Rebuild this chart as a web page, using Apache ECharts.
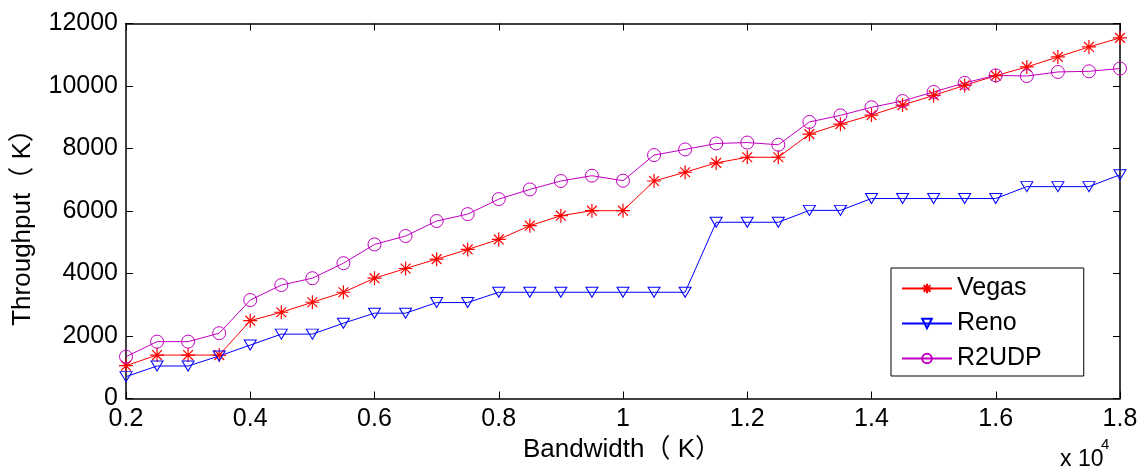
<!DOCTYPE html>
<html>
<head>
<meta charset="utf-8">
<script src="https://cdn.jsdelivr.net/npm/echarts@6/dist/echarts.min.js"></script>
<style>html,body{margin:0;padding:0;background:#fff;}#c{width:1141px;height:470px;}</style>
</head>
<body>
<div id="c"></div>
<script>
const bandwidth = [0.2,0.25,0.3,0.35,0.4,0.45,0.5,0.55,0.6,0.65,0.7,0.75,0.8,0.85,0.9,0.95,1.0,1.05,1.1,1.15,1.2,1.25,1.3,1.35,1.4,1.45,1.5,1.55,1.6,1.65,1.7,1.75,1.8];
const vegas = [1050,1390,1390,1390,2490,2760,3080,3400,3850,4160,4460,4770,5090,5530,5850,6010,6010,6960,7240,7540,7720,7720,8460,8780,9070,9390,9700,10020,10330,10610,10930,11250,11540];
const reno = [700,1040,1040,1360,1710,2060,2060,2410,2730,2730,3070,3070,3400,3400,3400,3400,3400,3400,3400,5640,5640,5640,6020,6020,6400,6400,6400,6400,6400,6780,6780,6780,7160];
const r2udp = [1340,1820,1820,2090,3150,3630,3850,4330,4930,5200,5680,5900,6380,6690,6960,7130,6970,7790,7970,8160,8190,8120,8850,9060,9320,9520,9810,10100,10340,10320,10450,10470,10560];
const seriesNames = ['Vegas','Reno','R2UDP'];
const xTitle = 'Bandwidth（ K）';
const yTitle = 'Throughput（ K）';

const FONT = '"Liberation Sans", Arial, "Noto Sans CJK SC", sans-serif';
const pair = (ys) => bandwidth.map((x, i) => [x, ys[i]]);
const asterisk = 'path://M10,0L10,20M0,10L20,10M3,3L17,17M3,17L17,3';

const chart = echarts.init(document.getElementById('c'), null, {renderer: 'canvas'});
const axisLine = {show: true, onZero: false, lineStyle: {color: '#000', width: 1.5}};
const tick = {show: true, inside: true, length: 7, lineStyle: {color: '#000', width: 1}};
chart.setOption({
  animation: false,
  backgroundColor: '#fff',
  textStyle: {fontFamily: FONT},
  grid: {left: 126, right: 21, top: 23.5, bottom: 71.5, containLabel: false},
  xAxis: [{
    type: 'value', min: 0.2, max: 1.8, interval: 0.2, position: 'bottom',
    axisLine, axisTick: tick, splitLine: {show: false},
    axisLabel: {color: '#000', fontSize: 25, fontFamily: FONT, margin: 8,
      formatter: v => String(Math.round(v * 10) / 10)},
    name: xTitle, nameLocation: 'middle', nameGap: 33,
    nameTextStyle: {color: '#000', fontSize: 26, fontFamily: FONT, padding: [0, 2, 0, 0]}
  }, {
    type: 'value', min: 0.2, max: 1.8, interval: 0.2, position: 'top',
    axisLine, axisTick: tick, axisLabel: {show: false}, splitLine: {show: false}
  }],
  yAxis: [{
    type: 'value', min: 0, max: 12000, interval: 2000, position: 'left',
    axisLine, axisTick: tick, splitLine: {show: false},
    axisLabel: {color: '#000', fontSize: 25, fontFamily: FONT, margin: 8, formatter: v => String(v)},
    name: yTitle, nameLocation: 'middle', nameGap: 90,
    nameTextStyle: {color: '#000', fontSize: 26, fontFamily: FONT, padding: [0, 20, 0, 0]}
  }, {
    type: 'value', min: 0, max: 12000, interval: 2000, position: 'right',
    axisLine, axisTick: tick, axisLabel: {show: false}, splitLine: {show: false}
  }],
  legend: {
    orient: 'vertical', left: 891, top: 268,
    data: seriesNames,
    backgroundColor: '#fff', borderColor: '#000', borderWidth: 1,
    padding: [8, 42, 5, 10], itemWidth: 50, itemHeight: 12, itemGap: 10,
    textStyle: {color: '#000', fontSize: 25, fontFamily: FONT, lineHeight: 25}
  },
  series: [{
    name: seriesNames[0], type: 'line', data: pair(vegas), xAxisIndex: 0, yAxisIndex: 0,
    symbol: asterisk, symbolSize: 14, showAllSymbol: true,
    lineStyle: {color: '#ff0000', width: 1},
    itemStyle: {color: 'rgba(0,0,0,0)', borderColor: '#ff0000', borderWidth: 1.2},
    z: 3
  }, {
    name: seriesNames[1], type: 'line', data: pair(reno),
    symbol: 'triangle', symbolRotate: 180, symbolSize: [12, 10], showAllSymbol: true,
    lineStyle: {color: '#0000ff', width: 1},
    itemStyle: {color: 'rgba(0,0,0,0)', borderColor: '#0000ff', borderWidth: 1},
    z: 3
  }, {
    name: seriesNames[2], type: 'line', data: pair(r2udp),
    symbol: 'circle', symbolSize: 13, showAllSymbol: true,
    lineStyle: {color: '#c000c0', width: 1},
    itemStyle: {color: 'rgba(0,0,0,0)', borderColor: '#c000c0', borderWidth: 1},
    z: 3
  }],
  graphic: [{
    type: 'text', left: 1060, top: 448,
    style: {text: 'x 10', fontSize: 23, fontFamily: FONT, fill: '#000'}
  }, {
    type: 'text', left: 1101, top: 437,
    style: {text: '4', fontSize: 15, fontFamily: FONT, fill: '#000'}
  }]
});
</script>
</body>
</html>
